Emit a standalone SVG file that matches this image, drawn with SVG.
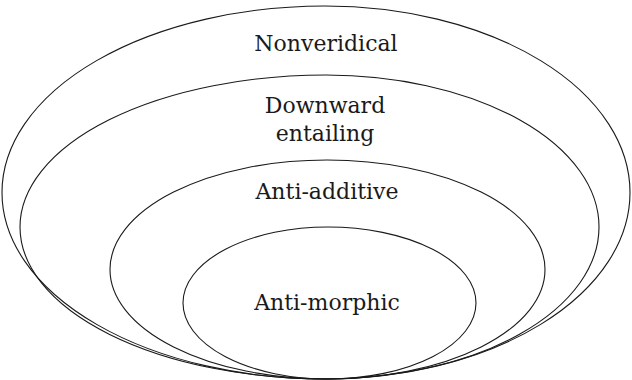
<svg xmlns="http://www.w3.org/2000/svg" width="632" height="380" viewBox="0 0 632 380">
<style>
.e{fill:none;stroke:#1a1a1a;stroke-width:1.1}
.t{font-family:"DejaVu Serif","Liberation Serif",serif;font-size:22px;fill:#1a1a1a;text-anchor:middle}
</style>
<rect width="632" height="380" fill="#fff"/>
<g id="nonveridical">
<path class="e" d="M325 379 A323 186.5 0 0 1 2 192.5 A323 186.5 0 0 1 325 6 A305 186.5 0 0 1 630 192.5 A305 186.5 0 0 1 325 379 Z"/>
<text class="t" x="326" y="51">Nonveridical</text>
</g>
<g id="downward-entailing">
<path class="e" d="M326 379 A306 152 0 0 1 20 227 A306 152 0 0 1 326 75 A273 152 0 0 1 599 227 A273 152 0 0 1 326 379 Z"/>
<text class="t" x="325" y="113">Downward</text>
<text class="t" x="325" y="141">entailing</text>
</g>
<g id="anti-additive">
<path class="e" d="M327 379 A217 109.5 0 0 1 110 269.5 A217 109.5 0 0 1 327 160 A218 109.5 0 0 1 545 269.5 A218 109.5 0 0 1 327 379 Z"/>
<text class="t" x="327" y="199">Anti-additive</text>
</g>
<g id="anti-morphic">
<path class="e" d="M328 379 A145 76 0 0 1 183 303 A145 76 0 0 1 328 227 A148 76 0 0 1 476 303 A148 76 0 0 1 328 379 Z"/>
<text class="t" x="327" y="310">Anti-morphic</text>
</g>
<g id="connectors"></g>
</svg>
